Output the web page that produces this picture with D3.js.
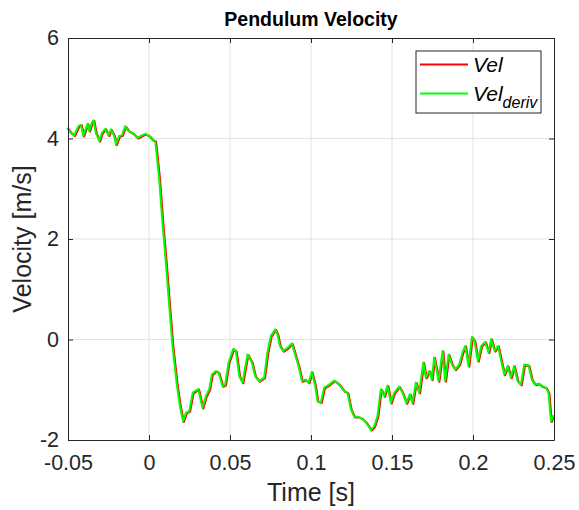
<!DOCTYPE html>
<html>
<head>
<meta charset="utf-8">
<script src="https://cdn.jsdelivr.net/npm/d3@7"></script>
<style>
  body { margin: 0; background: #fff; }
  svg text { font-family: "Liberation Sans", Arial, Helvetica, sans-serif; fill: #262626; }
</style>
</head>
<body>
<svg id="chart" width="579" height="510"></svg>
<script>
// time samples [s] and velocity [m/s]
const time = [-0.0500, -0.0477, -0.0457, -0.0430, -0.0415, -0.0401, -0.0375, -0.0364, -0.0348, -0.0338,
  -0.0323, -0.0302, -0.0286, -0.0265, -0.0245, -0.0230, -0.0210, -0.0199, -0.0179, -0.0162,
  -0.0142, -0.0122, -0.0097, -0.0066, -0.0045, -0.0019, 0.0006, 0.0027, 0.0043, 0.0051,
  0.0068, 0.0088, 0.0109, 0.0130, 0.0150, 0.0175, 0.0196, 0.0215, 0.0233, 0.0253,
  0.0275, 0.0309, 0.0335, 0.0356, 0.0377, 0.0393, 0.0418, 0.0434, 0.0459, 0.0475,
  0.0496, 0.0525, 0.0541, 0.0562, 0.0582, 0.0613, 0.0640, 0.0660, 0.0685, 0.0716,
  0.0736, 0.0757, 0.0784, 0.0798, 0.0813, 0.0833, 0.0860, 0.0887, 0.0912, 0.0928,
  0.0949, 0.0969, 0.0990, 0.1010, 0.1031, 0.1045, 0.1066, 0.1086, 0.1117, 0.1148,
  0.1179, 0.1210, 0.1230, 0.1251, 0.1272, 0.1298, 0.1323, 0.1344, 0.1375, 0.1395,
  0.1415, 0.1436, 0.1457, 0.1477, 0.1498, 0.1519, 0.1549, 0.1570, 0.1594, 0.1615,
  0.1631, 0.1652, 0.1673, 0.1698, 0.1714, 0.1735, 0.1751, 0.1765, 0.1780, 0.1792,
  0.1817, 0.1833, 0.1854, 0.1875, 0.1895, 0.1920, 0.1940, 0.1957, 0.1977, 0.1998,
  0.2014, 0.2035, 0.2056, 0.2080, 0.2101, 0.2117, 0.2138, 0.2159, 0.2177, 0.2198,
  0.2218, 0.2239, 0.2259, 0.2280, 0.2301, 0.2321, 0.2348, 0.2369, 0.2389, 0.2409,
  0.2430, 0.2455, 0.2471, 0.2486, 0.2500];

const vel = [4.20, 4.10, 4.05, 4.24, 4.26, 4.04, 4.28, 4.14, 4.30, 4.35,
  4.10, 3.94, 4.10, 4.18, 4.05, 4.17, 4.04, 3.87, 4.04, 4.05,
  4.23, 4.14, 4.10, 4.00, 4.04, 4.08, 4.04, 3.96, 3.94, 3.71,
  3.17, 2.31, 1.52, 0.65, -0.14, -0.87, -1.34, -1.64, -1.47, -1.44,
  -1.07, -1.00, -1.37, -1.14, -1.00, -0.71, -0.64, -0.67, -0.94, -0.91,
  -0.47, -0.20, -0.24, -0.74, -0.87, -0.31, -0.47, -0.74, -0.84, -0.77,
  -0.27, 0.06, 0.19, 0.09, -0.14, -0.24, -0.18, -0.09, -0.37, -0.54,
  -0.84, -0.81, -0.87, -0.66, -0.94, -1.24, -1.26, -0.97, -0.91, -0.83,
  -0.91, -1.04, -1.07, -1.40, -1.55, -1.55, -1.59, -1.66, -1.81, -1.74,
  -1.54, -1.00, -1.14, -0.93, -1.27, -1.07, -0.95, -1.07, -1.28, -1.10,
  -1.28, -0.87, -1.07, -0.47, -0.77, -0.64, -0.81, -0.37, -0.61, -0.84,
  -0.24, -0.84, -0.31, -0.51, -0.61, -0.51, -0.27, -0.14, -0.54, 0.04,
  -0.04, -0.44, -0.14, -0.06, -0.27, 0.00, -0.24, -0.14, -0.41, -0.71,
  -0.54, -0.77, -0.54, -0.84, -0.91, -0.51, -0.53, -0.82, -0.91, -0.89,
  -0.94, -0.97, -1.07, -1.64, -1.52];

// the numerical derivative lies on top of the measured velocity
const velDeriv = vel.slice();

const xTicks = [-0.05, 0, 0.05, 0.1, 0.15, 0.2, 0.25];
const yTicks = [-2, 0, 2, 4, 6];

const svg = d3.select("#chart");
const margin = {top: 38, right: 25, bottom: 70, left: 68};
const w = 579 - margin.left - margin.right;
const h = 510 - margin.top - margin.bottom;
const g = svg.append("g").attr("transform", `translate(${margin.left},${margin.top})`);

const x = d3.scaleLinear().domain([-0.05, 0.25]).range([0, w]);
const y = d3.scaleLinear().domain([-2, 6]).range([h, 0]);
const fmt = d => d === 0 ? "0" : String(d);

// grid
g.append("g").selectAll("line").data(xTicks.slice(1, -1)).join("line")
  .attr("x1", d => x(d)).attr("x2", d => x(d)).attr("y1", 0).attr("y2", h)
  .attr("stroke", "#e3e3e3").attr("stroke-width", 1);
g.append("g").selectAll("line").data(yTicks.slice(1, -1)).join("line")
  .attr("x1", 0).attr("x2", w).attr("y1", d => y(d)).attr("y2", d => y(d))
  .attr("stroke", "#e3e3e3").attr("stroke-width", 1);

// lines
const line = d3.line().x((d, i) => x(time[i])).y(d => y(d));
g.append("path").datum(vel).attr("d", line)
  .attr("fill", "none").attr("stroke", "#ff0000").attr("stroke-width", 2.2)
  .attr("stroke-linejoin", "round");
g.append("path").datum(velDeriv).attr("d", line)
  .attr("transform", "translate(-0.8,-0.6)")
  .attr("fill", "none").attr("stroke", "#00ff00").attr("stroke-width", 2)
  .attr("stroke-linejoin", "round");

// axes (MATLAB box with inward ticks)
const axB = g.append("g").attr("transform", `translate(0,${h})`)
  .call(d3.axisBottom(x).tickValues(xTicks).tickFormat(fmt).tickSizeInner(-5).tickSizeOuter(0).tickPadding(15));
const axT = g.append("g")
  .call(d3.axisTop(x).tickValues(xTicks).tickFormat("").tickSizeInner(-5).tickSizeOuter(0));
const axL = g.append("g")
  .call(d3.axisLeft(y).tickValues(yTicks).tickFormat(fmt).tickSizeInner(-5).tickSizeOuter(0).tickPadding(9));
const axR = g.append("g").attr("transform", `translate(${w},0)`)
  .call(d3.axisRight(y).tickValues(yTicks).tickFormat("").tickSizeInner(-5).tickSizeOuter(0));
[axB, axT, axL, axR].forEach(a => {
  a.select(".domain").attr("stroke", "#262626").attr("stroke-width", 1);
  a.selectAll(".tick line").attr("stroke", "#262626");
  a.selectAll("text").attr("font-size", 21.5).attr("fill", "#262626")
    .attr("font-family", "'Liberation Sans', Arial, sans-serif");
});
axB.selectAll("text").attr("dy", "0.71em");

// labels
svg.append("text").attr("x", margin.left + w / 2).attr("y", 26)
  .attr("text-anchor", "middle").attr("font-size", 19.5).attr("font-weight", "bold")
  .style("fill", "#000").text("Pendulum Velocity");
svg.append("text").attr("x", margin.left + w / 2).attr("y", 501)
  .attr("text-anchor", "middle").attr("font-size", 25).text("Time [s]");
svg.append("text").attr("transform", `translate(31,${margin.top + h / 2}) rotate(-90)`)
  .attr("text-anchor", "middle").attr("font-size", 25).text("Velocity [m/s]");

// legend
const lg = svg.append("g").attr("transform", "translate(416,51)");
lg.append("rect").attr("width", 125).attr("height", 62)
  .attr("fill", "#fff").attr("stroke", "#262626").attr("stroke-width", 1);
const legendItems = [{color: "#ff0000", main: "Vel", sub: ""}, {color: "#00ff00", main: "Vel", sub: "deriv"}];
legendItems.forEach((d, i) => {
  const yy = 13.5 + i * 29;
  lg.append("line").attr("x1", 4).attr("x2", 52).attr("y1", yy).attr("y2", yy)
    .attr("stroke", d.color).attr("stroke-width", 2);
  const t = lg.append("text").attr("x", 57).attr("y", yy + 7.5)
    .attr("font-size", 21).attr("font-style", "italic").style("fill", "#000").text(d.main);
  if (d.sub) t.append("tspan").attr("font-size", 16).attr("dy", 7).text(d.sub);
});
</script>
</body>
</html>
